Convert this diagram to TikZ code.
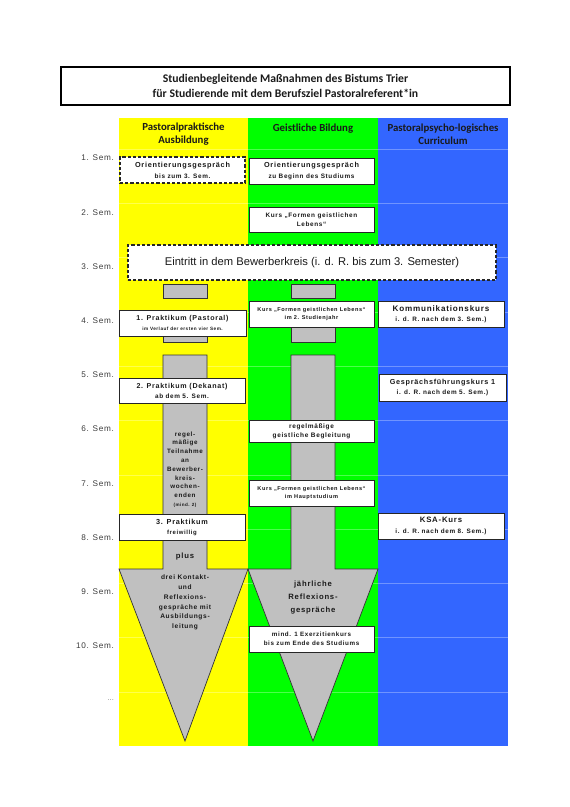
\documentclass[tikz,border=0pt]{standalone}
\usepackage{fontspec}
\setmainfont{Liberation Sans}
\newfontfamily\calfont{Carlito}
\newfontfamily\bxfont[LetterSpace=10]{Liberation Sans}
\newfontfamily\semfont[LetterSpace=8]{Liberation Sans}
\newcommand\myfs[2]{\fontsize{#1}{#2}\selectfont}
\definecolor{ygel}{HTML}{FFFF00}
\definecolor{grn}{HTML}{00FF00}
\definecolor{blu}{HTML}{3366FF}
\definecolor{gry}{HTML}{C0C0C0}
\definecolor{txt}{HTML}{1A1A1A}
\tikzset{
  box/.style={draw=black!85, line width=0.8pt, fill=white, inner sep=0pt, align=center, text=txt},
  dbox/.style={box, dash pattern=on 3.2pt off 2pt, line width=1.1pt},
  greyrect/.style={draw=black!80, fill=gry, line width=0.7pt},
  semlab/.style={anchor=east, inner sep=0pt, text=txt!85, font=\semfont\myfs{8.2}{9}},
  arrtxt/.style={inner sep=0pt, align=center, text=txt},
  hdr/.style={align=center, inner sep=0pt, font=\calfont\bfseries\myfs{10.8}{13}, text=txt},
  rowline/.style={white, opacity=0.3, line width=0.6pt}
}
\begin{document}
\begin{tikzpicture}[x=1pt,y=-1pt]
\useasboundingbox (0,0) rectangle (570,807);
% title
\node[draw=black, line width=1.2pt, minimum width=449pt, minimum height=38pt, inner sep=0pt, align=center, font=\calfont\bfseries\myfs{11.7}{15.5}, text=txt] (title) at (285.5,86) {Studienbegleitende Maßnahmen des Bistums Trier\\für Studierende mit dem Berufsziel Pastoralreferent*in};
% columns
\fill[ygel] (119,118) rectangle (248,746);
\fill[grn] (248,118) rectangle (378,746);
\fill[blu] (378,118) rectangle (508,746);
\foreach \k in {0,...,10} \draw[rowline] (119,149+54.3*\k) -- (508,149+54.3*\k);
% headers
\node[hdr] (h1) at (183.5,134.5) {Pastoralpraktische\\Ausbildung};
\node[hdr, anchor=base] (h2) at (313,131.5) {Geistliche Bildung};
\node[hdr] (h3) at (443,134.5) {Pastoralpsycho-logisches\\Curriculum};
% semester labels
\foreach \i/\t in {1/1. Sem.,2/2. Sem.,3/3. Sem.,4/4. Sem.,5/5. Sem.,6/6. Sem.,7/7. Sem.,8/8. Sem.,9/9. Sem.,10/10. Sem.}
  \node[semlab] (s\i) at (114,158+54.2*\i-54.2) {\t};
\node[semlab, font=\semfont\myfs{6}{7}] (s11) at (114,700) {...};
% grey pieces
\draw[greyrect] (163,284) rectangle (207,298);
\draw[greyrect] (291,284) rectangle (335,298);
\draw[greyrect] (163,320) rectangle (207,342);
\draw[greyrect] (291,315) rectangle (335,342);
% arrows
\draw[greyrect, line join=miter] (163,355) -- (207,355) -- (207,569) -- (248,569) -- (185,741) -- (119,569) -- (163,569) -- cycle;
\draw[greyrect, line join=miter] (291,355) -- (335,355) -- (335,569) -- (378,569) -- (313,741) -- (248,569) -- (291,569) -- cycle;
% boxes
\node[dbox, minimum width=125pt, minimum height=26pt, font=\bxfont\bfseries\myfs{7.3}{11}] (o1) at (182.5,170) {Orientierungsgespräch\\\myfs{6.4}{8}bis zum 3. Sem.};
\node[box, minimum width=125pt, minimum height=26pt, font=\bxfont\bfseries\myfs{7.3}{10.5}] (o2) at (311.5,171) {Orientierungsgespräch\\\myfs{6.4}{8}zu Beginn des Studiums};
\node[box, minimum width=125pt, minimum height=25pt, font=\bxfont\bfseries\myfs{6.4}{9.5}] (k1) at (311.5,219.5) {Kurs „Formen geistlichen\\Lebens“};
\node[dbox, minimum width=368pt, minimum height=35pt, font=\myfs{11.2}{13}] (ein) at (312,262.5) {Eintritt in dem Bewerberkreis (i. d. R. bis zum 3. Semester)};
\node[box, minimum width=127pt, minimum height=26pt, font=\bxfont\bfseries\myfs{7.1}{10}] (p1) at (182.5,323) {1. Praktikum (Pastoral)\\\myfs{4.7}{6}im Verlauf der ersten vier Sem.};
\node[box, minimum width=125pt, minimum height=26pt, font=\bxfont\bfseries\myfs{5.6}{8.5}] (k2) at (311.5,314) {Kurs „Formen geistlichen Lebens“\\im 2. Studienjahr};
\node[box, minimum width=126pt, minimum height=26pt, font=\bxfont\bfseries\myfs{8.1}{10.5}] (kom) at (441,314) {Kommunikationskurs\\\myfs{6.35}{8}i. d. R. nach dem 3. Sem.)};
\node[box, minimum width=126pt, minimum height=25pt, font=\bxfont\bfseries\myfs{7.1}{10}] (p2) at (182,390.5) {2. Praktikum (Dekanat)\\\myfs{6.4}{8}ab dem 5. Sem.};
\node[box, minimum width=127pt, minimum height=27pt, font=\bxfont\bfseries\myfs{7.25}{10.5}] (ges) at (442.5,387.5) {Gesprächsführungskurs 1\\\myfs{6.4}{8}i. d. R. nach dem 5. Sem.)};
\node[box, minimum width=125pt, minimum height=22pt, font=\bxfont\bfseries\myfs{6.5}{9}] (beg) at (311.5,431) {regelmäßige\\geistliche Begleitung};
\node[box, minimum width=125pt, minimum height=26pt, font=\bxfont\bfseries\myfs{5.6}{8.5}] (k3) at (311.5,493) {Kurs „Formen geistlichen Lebens“\\im Hauptstudium};
\node[box, minimum width=126pt, minimum height=26pt, font=\bxfont\bfseries\myfs{7.3}{10}] (p3) at (182,527) {3. Praktikum\\\myfs{6}{8}freiwillig};
\node[box, minimum width=126pt, minimum height=26pt, font=\bxfont\bfseries\myfs{7.8}{10.5}] (ksa) at (441,526) {KSA-Kurs\\\myfs{6.35}{8}i. d. R. nach dem 8. Sem.)};
\node[box, minimum width=125pt, minimum height=26pt, font=\bxfont\bfseries\myfs{6.25}{9.5}] (ex) at (311.5,639) {mind. 1 Exerzitienkurs\\bis zum Ende des Studiums};
% arrow texts
\node[arrtxt, font=\bxfont\bfseries\myfs{6.3}{8.8}] (t1) at (185,469.5) {regel-\\mäßige\\Teilnahme\\an\\Bewerber-\\kreis-\\wochen-\\enden\\\myfs{4.6}{6}(mind. 2)};
\node[arrtxt, font=\bxfont\bfseries\myfs{7.7}{9}] (plus) at (185,557) {plus};
\node[arrtxt, font=\bxfont\bfseries\myfs{6.6}{9.7}] (t2) at (185,602.5) {drei Kontakt-\\und\\Reflexions-\\gespräche mit\\Ausbildungs-\\leitung};
\node[arrtxt, font=\bxfont\bfseries\myfs{7.7}{13}] (t3) at (313,598) {jährliche\\Reflexions-\\gespräche};
\end{tikzpicture}
\end{document}
